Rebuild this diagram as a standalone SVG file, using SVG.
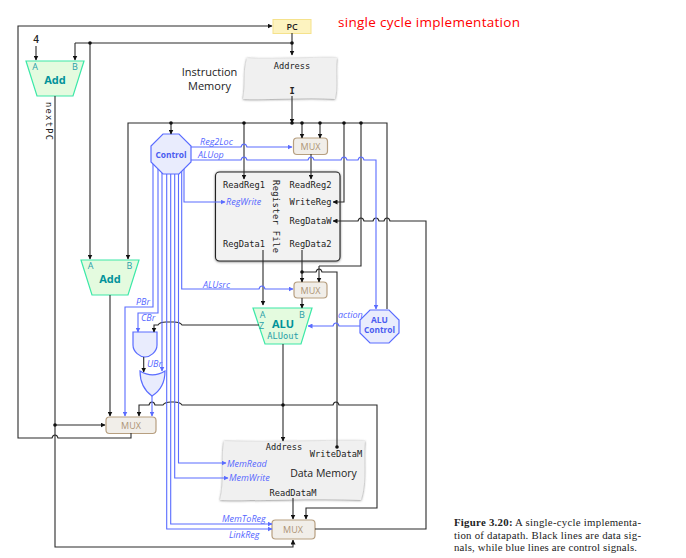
<svg xmlns="http://www.w3.org/2000/svg" width="686" height="558" viewBox="0 0 686 558">
<style>
text{font-family:"Open Sans","Noto Sans","Liberation Sans",sans-serif;fill:#222;text-anchor:middle}
.m{font-family:"DejaVu Sans Mono","Liberation Mono",monospace;font-size:8.7px;fill:#222}
.k{fill:none;stroke:#2a2a2a;stroke-width:1.1;marker-end:url(#ak)}
.n{fill:none;stroke:#2a2a2a;stroke-width:1.1}
.b{fill:none;stroke:#5a6cff;stroke-width:1.1;marker-end:url(#ab)}
.d{fill:#111;stroke:none}
.l{font-style:italic;font-size:9px;fill:#5566ff;text-anchor:start}
.add{fill:#e4fbdf;stroke:#3ce8a8;stroke-width:1.2}
.ab{font-size:9px;fill:#2a9fa8}
.at{font-weight:700;fill:#00929a}
.mux{fill:#f1eee9;stroke:#b79f80;stroke-width:1.2}
.mt{font-size:9px;fill:#ad9576}
.ctl{fill:#e9ecfd;stroke:#5a6cff;stroke-width:1.2}
.ct{font-weight:700;fill:#4a5cf0;font-size:8.400px}
.mem{fill:#f0f0f0;filter:url(#sh)}
.cap{font-family:"Liberation Serif",serif;font-size:10.800px;text-anchor:start}
</style>
<defs>
<marker id="ak" markerUnits="userSpaceOnUse" markerWidth="5" markerHeight="5" refX="4.5" refY="2.5" orient="auto"><path d="M0,0L5,2.5L0,5z" fill="#111"/></marker>
<marker id="ab" markerUnits="userSpaceOnUse" markerWidth="5" markerHeight="5" refX="4.5" refY="2.5" orient="auto"><path d="M0,0L5,2.5L0,5z" fill="#5a6cff"/></marker>
<filter id="sh" x="-10%" y="-15%" width="120%" height="130%"><feDropShadow dx="0" dy="0.5" stdDeviation="1.3" flood-color="#555" flood-opacity="0.8"/></filter>
</defs>

<g id="pc"><rect x="273" y="19.500" width="38" height="14" fill="#fdf3c0" stroke="#f5e28c"/><text x="292" y="30" font-size="9" font-weight="600">PC</text></g>
<text id="title" x="429" y="27" font-size="13.500" style="fill:#f00" textLength="182">single cycle implementation</text>

<g id="add1"><path class="add" d="M26,61H84L73,96H37z"/><text class="ab" x="35" y="70">A</text><text class="ab" x="75" y="70">B</text><text class="at" x="55" y="84" font-size="11">Add</text></g>
<text id="four" x="36" y="43" font-size="10" font-weight="600">4</text>
<text id="nextpc" class="m" transform="translate(45.500,121) rotate(90)" textLength="38">nextPC</text>

<g id="instruction-memory"><path class="mem" d="M247,58C275,60 310,57 337,58C335,72 338,85 335,99C305,97 275,100 243,99C246,85 243,72 247,58z"/><text class="m" x="292" y="69">Address</text><text class="m" x="292" y="94" font-weight="700">I</text>
<text x="209.500" y="76" font-size="11">Instruction</text><text x="209.500" y="90" font-size="11">Memory</text></g>

<g id="control"><path class="ctl" d="M163,134H179L191,146V162L179,174H163L151,162V146z"/><text class="ct" x="171" y="158">Control</text></g>
<g id="mux-reg"><rect class="mux" x="293.500" y="138" width="34" height="16.500" rx="3.500"/><text class="mt" x="310.500" y="149.500">MUX</text></g>

<g id="register-file"><rect x="215.500" y="172" width="124.500" height="89" rx="4" fill="#f2f2f2" stroke="#222" stroke-width="1.100" filter="url(#sh)"/>
<text class="m" x="244" y="188">ReadReg1</text><text class="m" x="310.500" y="188">ReadReg2</text><text class="m" x="310.500" y="205">WriteReg</text><text class="m" x="310.500" y="224">RegDataW</text><text class="m" x="244" y="247">RegData1</text><text class="m" x="310.500" y="247">RegData2</text>
<text class="m" transform="translate(273,216.500) rotate(90)" textLength="73">Register File</text>
<text class="l" x="226" y="205">RegWrite</text></g>

<g id="add2"><path class="add" d="M81,260H139L128,295H92z"/><text class="ab" x="90.500" y="269">A</text><text class="ab" x="129.500" y="269">B</text><text class="at" x="110" y="283" font-size="11">Add</text></g>
<g id="mux-alu"><rect class="mux" x="294" y="282" width="33" height="16" rx="3.500"/><text class="mt" x="310.500" y="293.500">MUX</text></g>
<g id="alu"><path class="add" d="M253,308H312L301,344H265z"/><text class="ab" x="262.500" y="317.500">A</text><text class="ab" x="302" y="317.500">B</text><text class="ab" x="261.500" y="329">Z</text><text class="at" x="283" y="328" font-size="11">ALU</text><text class="m" x="283" y="339" style="fill:#2a9fa8">ALUout</text></g>
<g id="alu-control"><path class="ctl" d="M370,310H389L399,320V333L389,343H370L360,333V320z"/><text class="ct" x="379.500" y="322.500">ALU</text><text class="ct" x="379.500" y="333">Control</text></g>
<g id="and-gate"><path class="ctl" d="M133,332H157V345C157,352 150,357 145,357C140,357 133,352 133,345z"/></g>
<g id="or-gate"><path class="ctl" d="M140,371C148,376 157,376 165,371C165,382 160,391 152,396C145,391 140,382 140,371z"/></g>
<g id="mux-pc"><rect class="mux" x="106" y="417" width="50" height="16.500" rx="3.500"/><text class="mt" x="131" y="428.500">MUX</text></g>

<g id="data-memory"><path class="mem" d="M224,441C270,443 320,440 365,441C363,460 367,480 361,500C315,498 265,501 220,500C225,480 221,460 224,441z"/><text class="m" x="284" y="450">Address</text><text class="m" x="336" y="457">WriteDataM</text><text x="323.500" y="477" font-size="10.500">Data Memory</text><text class="m" x="293" y="496">ReadDataM</text>
<text class="l" x="227" y="467">MemRead</text><text class="l" x="229" y="481">MemWrite</text></g>
<g id="mux-wb"><rect class="mux" x="272" y="520" width="43" height="19" rx="3.500"/><text class="mt" x="293" y="533">MUX</text></g>

<g id="connectors">
<path class="k" d="M131,433V438H58c-1,-4 -5,-4 -6,0H18V26H272"/>
<path class="k" d="M292,33V55"/>
<path class="n" d="M292,43H75"/>
<path class="k" d="M75,43V60"/>
<path class="k" d="M90,43V259"/>
<path class="k" d="M36,46V60"/>
<path class="k" d="M55,96V547H293V540"/>
<path class="k" d="M55,425H105"/>
<path class="k" d="M292,96V123"/>
<path class="k" d="M387,309V123H128V259"/>
<path class="k" d="M171,123V134"/>
<path class="k" d="M244,123V179"/>
<path class="k" d="M302,123V138"/>
<path class="k" d="M320,123V138"/>
<path class="k" d="M344,123V202H333"/>
<path class="n" d="M361,123V266H319"/>
<path class="k" d="M319,266V282"/>
<path class="k" d="M311,154V179"/>
<path class="k" d="M315,529H426V221H390c-1,-4 -5,-4 -6,0H379c-1,-4 -5,-4 -6,0H364c-1,-4 -5,-4 -6,0H333"/>
<path class="k" d="M263,250V305"/>
<path class="k" d="M302,250V282"/>
<path class="n" d="M302,272H316c1,-4 5,-4 6,0H337V447"/>
<path class="k" d="M302,298V308"/>
<path class="k" d="M259,325H182c-2,-3 -6,-3 -8,-3H166c-2,0 -6,0 -8,3H154V332"/>
<path class="k" d="M283,344V441"/>
<path class="k" d="M283,405H333c1,-4 5,-4 6,0H377V508H306V519"/>
<path class="k" d="M283,405H182c-2,-3 -6,-3 -8,-3H171c-2,0 -6,0 -8,3H155c-1,-4 -5,-4 -6,0H139V416"/>
<path class="k" d="M110,295V416"/>
<path class="k" d="M143.700,357V372"/>
<path class="k" d="M293,498V519"/>

<path class="b" d="M191,147H241c1,-4 5,-4 6,0H292"/>
<path class="b" d="M191,160H241c1,-4 5,-4 6,0H308c1,-4 5,-4 6,0H341c1,-4 5,-4 6,0H358c1,-4 5,-4 6,0H376V309"/>
<path class="b" d="M184,169V202H225"/>
<path class="b" d="M181.700,171V289H259c1,-4 5,-4 6,0H293"/>
<path class="b" d="M360,326H339c-1,-4 -5,-4 -6,0H308"/>
<path class="b" d="M153,164V307H125V416"/>
<path class="b" d="M158,169V313H138V332"/>
<path class="b" d="M162,173V371"/>
<path class="b" d="M166.700,174V529H272"/>
<path class="b" d="M170.700,174V524H272"/>
<path class="b" d="M174.700,174V478H228"/>
<path class="b" d="M178.500,174V463H226"/>
<path class="b" d="M152,396V416"/>

<circle class="d" cx="292" cy="43" r="1.800"/>
<circle class="d" cx="90" cy="43" r="1.800"/>
<circle class="d" cx="171" cy="123" r="1.800"/>
<circle class="d" cx="244" cy="123" r="1.800"/>
<circle class="d" cx="292" cy="123" r="1.800"/>
<circle class="d" cx="302" cy="123" r="1.800"/>
<circle class="d" cx="320" cy="123" r="1.800"/>
<circle class="d" cx="344" cy="123" r="1.800"/>
<circle class="d" cx="361" cy="123" r="1.800"/>
<circle class="d" cx="302" cy="272" r="1.800"/>
<circle class="d" cx="283" cy="405" r="1.800"/>
<circle class="d" cx="55" cy="425" r="1.800"/>
<circle class="d" cx="337" cy="447" r="1.800"/>
</g>

<g id="labels">
<text class="l" x="200" y="145">Reg2Loc</text>
<text class="l" x="198" y="158">ALUop</text>
<text class="l" x="203" y="288">ALUsrc</text>
<text class="l" x="136" y="305">PBr</text>
<text class="l" x="141" y="321">CBr</text>
<text class="l" x="147" y="367">UBr</text>
<text class="l" x="338" y="318">action</text>
<text class="l" x="222" y="522">MemToReg</text>
<text class="l" x="229" y="538">LinkReg</text>
</g>

<g id="caption">
<text class="cap" x="454" y="526" textLength="187"><tspan font-weight="700">Figure 3.20:</tspan> A single-cycle implementa-</text>
<text class="cap" x="454" y="538.500" textLength="187">tion of datapath. Black lines are data sig-</text>
<text class="cap" x="454" y="551" textLength="183">nals, while blue lines are control signals.</text>
</g>
</svg>
